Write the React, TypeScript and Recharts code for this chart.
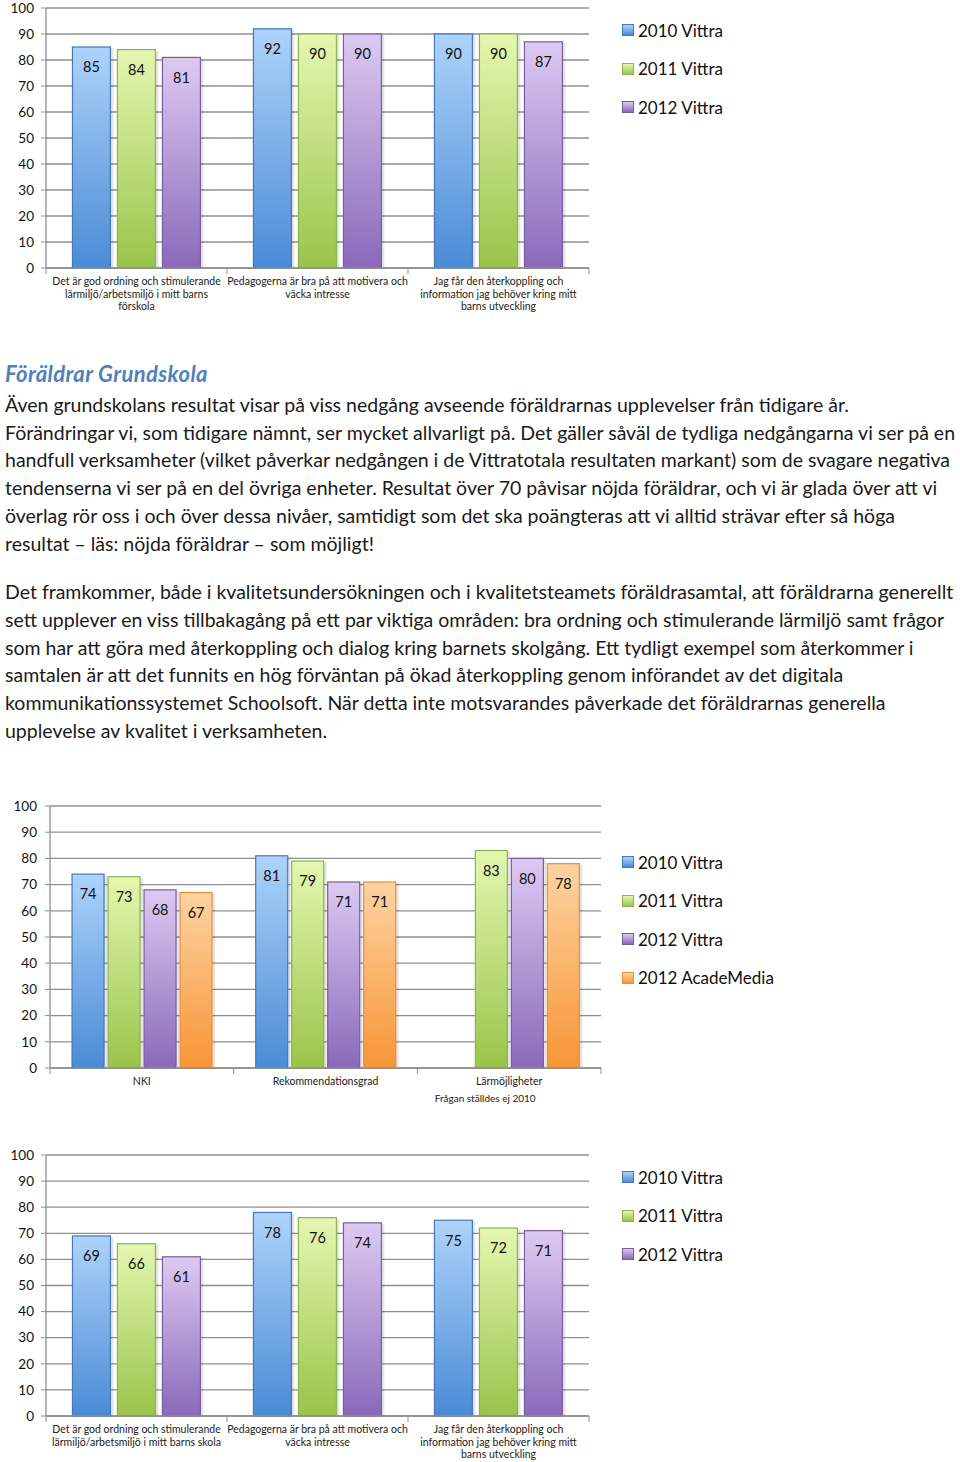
import { BarChart, Bar, XAxis, YAxis, CartesianGrid, LabelList } from "recharts";

// ---- data ----
const Y_TICKS = [0, 10, 20, 30, 40, 50, 60, 70, 80, 90, 100];

const SERIES_3 = ["2010 Vittra", "2011 Vittra", "2012 Vittra"];
const SERIES_4 = ["2010 Vittra", "2011 Vittra", "2012 Vittra", "2012 AcadeMedia"];
const SERIES_KEYS = ["v2010", "v2011", "v2012", "am2012"];

// Förskola
const forskolaLabels = [
  ["Det är god ordning och stimulerande", "lärmiljö/arbetsmiljö i mitt barns", "förskola"],
  ["Pedagogerna är bra på att motivera och", "väcka intresse"],
  ["Jag får den återkoppling och", "information jag behöver kring mitt", "barns utveckling"],
];
const forskola2010 = [85, 92, 90];
const forskola2011 = [84, 90, 90];
const forskola2012 = [81, 90, 87];

// Grundskola, index
const indexLabels = [["NKI"], ["Rekommendationsgrad"], ["Lärmöjligheter"]];
const indexNote = "Frågan ställdes ej 2010";
const index2010 = [74, 81, null];
const index2011 = [73, 79, 83];
const index2012 = [68, 71, 80];
const indexAM2012 = [67, 71, 78];

// Grundskola, frågor
const skolaLabels = [
  ["Det är god ordning och stimulerande", "lärmiljö/arbetsmiljö i mitt barns skola"],
  ["Pedagogerna är bra på att motivera och", "väcka intresse"],
  ["Jag får den återkoppling och", "information jag behöver kring mitt", "barns utveckling"],
];
const skola2010 = [69, 78, 75];
const skola2011 = [66, 76, 72];
const skola2012 = [61, 74, 71];

// ---- styles ----
const FONT = "Lato, 'Open Sans', sans-serif";
const GRID = "#8f8f8f";
const PALETTE = [
  { top: "#add3fa", bottom: "#4a8bd6", stroke: "#4677b6" },
  { top: "#e4f7b0", bottom: "#99c44b", stroke: "#8fb250" },
  { top: "#dccaf2", bottom: "#8a69ba", stroke: "#7a5d9e" },
  { top: "#fed3a2", bottom: "#f79536", stroke: "#ee8c3c" },
];

const para1 = [
  "Även grundskolans resultat visar på viss nedgång avseende föräldrarnas upplevelser från tidigare år.",
  "Förändringar vi, som tidigare nämnt, ser mycket allvarligt på. Det gäller såväl de tydliga nedgångarna vi ser på en",
  "handfull verksamheter (vilket påverkar nedgången i de Vittratotala resultaten markant) som de svagare negativa",
  "tendenserna vi ser på en del övriga enheter. Resultat över 70 påvisar nöjda föräldrar, och vi är glada över att vi",
  "överlag rör oss i och över dessa nivåer, samtidigt som det ska poängteras att vi alltid strävar efter så höga",
  "resultat – läs: nöjda föräldrar – som möjligt!",
];
const para2 = [
  "Det framkommer, både i kvalitetsundersökningen och i kvalitetsteamets föräldrasamtal, att föräldrarna generellt",
  "sett upplever en viss tillbakagång på ett par viktiga områden: bra ordning och stimulerande lärmiljö samt frågor",
  "som har att göra med återkoppling och dialog kring barnets skolgång. Ett tydligt exempel som återkommer i",
  "samtalen är att det funnits en hög förväntan på ökad återkoppling genom införandet av det digitala",
  "kommunikationssystemet Schoolsoft. När detta inte motsvarandes påverkade det föräldrarnas generella",
  "upplevelse av kvalitet i verksamheten.",
];

const buildRows = (labels: string[][], cols: (number | null)[][]) =>
  labels.map((l, i) => {
    const row: any = { name: l.join(" ") };
    cols.forEach((c, j) => (row[SERIES_KEYS[j]] = c[i]));
    return row;
  });

const ShadowBar = (props: any) => {
  const { x, y, width, height, fill, stroke } = props;
  if (!height || height <= 0) return null;
  return (
    <g>
      <rect x={x + 2} y={y + 1} width={width + 1} height={height - 1} fill="rgba(0,0,0,0.10)" />
      <rect x={x} y={y} width={width} height={height} fill={fill} stroke={stroke} strokeWidth={1.2} />
    </g>
  );
};

const CatTick = (props: any) => {
  const { x, y, index, lines, half, note } = props;
  const ls: string[] = lines[index] || [];
  return (
    <g>
      <line x1={x + half} x2={x + half} y1={y} y2={y + 6} stroke={GRID} />
      {index === 0 && <line x1={x - half} x2={x - half} y1={y} y2={y + 6} stroke={GRID} />}
      {ls.map((t, i) => (
        <text key={i} x={x} y={y + 17 + i * 12.5} textAnchor="middle" fontSize={10.5} fill="#222" fontFamily={FONT}>
          {t}
        </text>
      ))}
      {note && index === lines.length - 1 && (
        <text x={x - 24} y={y + 34} textAnchor="middle" fontSize={10} fill="#222" fontFamily={FONT}>
          {note}
        </text>
      )}
    </g>
  );
};

const SideLegend = ({ top, names }: { top: number; names: string[] }) => (
  <div style={{ position: "absolute", left: 622, top, fontFamily: FONT }}>
    {names.map((n, i) => (
      <div key={n} style={{ height: 38.5, display: "flex", alignItems: "center" }}>
        <span
          style={{
            width: 10,
            height: 10,
            marginRight: 4,
            border: `1px solid ${PALETTE[i].stroke}`,
            background: `linear-gradient(${PALETTE[i].top}, ${PALETTE[i].bottom})`,
          }}
        />
        <span style={{ fontSize: 17, color: "#111", whiteSpace: "nowrap" }}>{n}</span>
      </div>
    ))}
  </div>
);

const GroupChart = (p: {
  id: string;
  top: number;
  width: number;
  height: number;
  margin: any;
  yWidth: number;
  xHeight: number;
  tickMargin: number;
  data: any[];
  names: string[];
  lines: string[][];
  note?: string;
  gap: string;
  barGap: number;
}) => {
  const plotW = p.width - p.margin.left - p.margin.right - p.yWidth;
  const half = plotW / p.data.length / 2;
  return (
    <div style={{ position: "absolute", left: 0, top: p.top }}>
      <BarChart
        width={p.width}
        height={p.height}
        data={p.data}
        margin={p.margin}
        barCategoryGap={p.gap}
        barGap={p.barGap}
      >
        <defs>
          {PALETTE.map((c, i) => (
            <linearGradient key={i} id={`${p.id}g${i}`} x1="0" y1="0" x2="0" y2="1">
              <stop offset="0%" stopColor={c.top} />
              <stop offset="100%" stopColor={c.bottom} />
            </linearGradient>
          ))}
        </defs>
        <CartesianGrid vertical={false} stroke={GRID} strokeWidth={1.3} />
        <XAxis
          dataKey="name"
          height={p.xHeight}
          tickSize={0}
          tickMargin={0}
          tickLine={false}
          axisLine={{ stroke: GRID, strokeWidth: 1.3 }}
          interval={0}
          tick={(tp: any) => <CatTick {...tp} lines={p.lines} half={half} note={p.note} />}
        />
        <YAxis
          width={p.yWidth}
          domain={[0, 100]}
          ticks={Y_TICKS}
          interval={0}
          tickSize={5}
          tickMargin={p.tickMargin}
          tickLine={{ stroke: GRID }}
          axisLine={{ stroke: GRID, strokeWidth: 1.3 }}
          tick={{ fontSize: 13.5, fill: "#111", fontFamily: FONT }}
        />
        {p.names.map((n, i) => (
          <Bar
            key={n}
            dataKey={SERIES_KEYS[i]}
            name={n}
            fill={`url(#${p.id}g${i})`}
            stroke={PALETTE[i].stroke}
            shape={ShadowBar}
            isAnimationActive={false}
          >
            <LabelList
              dataKey={SERIES_KEYS[i]}
              position="insideTop"
              offset={15}
              fontSize={14.5}
              fill="#111"
              fontFamily={FONT}
            />
          </Bar>
        ))}
      </BarChart>
    </div>
  );
};

export default function App() {
  return (
    <div style={{ position: "absolute", left: 0, top: 0, width: 960, height: 1462, background: "#fff", fontFamily: FONT }}>
      <GroupChart
        id="c1"
        top={0}
        width={600}
        height={320}
        margin={{ top: 8, right: 11, left: 0, bottom: 0 }}
        yWidth={46}
        xHeight={52}
        tickMargin={7}
        data={buildRows(forskolaLabels, [forskola2010, forskola2011, forskola2012])}
        names={SERIES_3}
        lines={forskolaLabels}
        gap="14.6%"
        barGap={7}
      />
      <SideLegend top={10.75} names={SERIES_3} />

      <div
        style={{
          position: "absolute",
          left: 5,
          top: 360,
          fontSize: 22,
          letterSpacing: 0.4,
          fontWeight: 700,
          fontStyle: "italic",
          color: "#4f81bd",
          whiteSpace: "nowrap",
        }}
      >
        Föräldrar Grundskola
      </div>
      <div style={{ position: "absolute", left: 5, top: 391, fontSize: 19.5, lineHeight: "27.7px", color: "#1a1a1a" }}>
        {para1.map((t) => (
          <div key={t} style={{ whiteSpace: "nowrap" }}>{t}</div>
        ))}
      </div>
      <div style={{ position: "absolute", left: 5, top: 578, fontSize: 19.5, lineHeight: "27.8px", color: "#1a1a1a" }}>
        {para2.map((t) => (
          <div key={t} style={{ whiteSpace: "nowrap" }}>{t}</div>
        ))}
      </div>

      <GroupChart
        id="c2"
        top={790}
        width={620}
        height={330}
        margin={{ top: 16, right: 19, left: 0, bottom: 0 }}
        yWidth={50}
        xHeight={52}
        tickMargin={8}
        data={buildRows(indexLabels, [index2010, index2011, index2012, indexAM2012])}
        names={SERIES_4}
        lines={indexLabels}
        note={indexNote}
        gap="12%"
        barGap={4}
      />
      <SideLegend top={842.75} names={SERIES_4} />

      <GroupChart
        id="c3"
        top={1140}
        width={600}
        height={322}
        margin={{ top: 15, right: 11, left: 0, bottom: 0 }}
        yWidth={46}
        xHeight={46}
        tickMargin={7}
        data={buildRows(skolaLabels, [skola2010, skola2011, skola2012])}
        names={SERIES_3}
        lines={skolaLabels}
        gap="14.6%"
        barGap={7}
      />
      <SideLegend top={1158} names={SERIES_3} />
    </div>
  );
}
